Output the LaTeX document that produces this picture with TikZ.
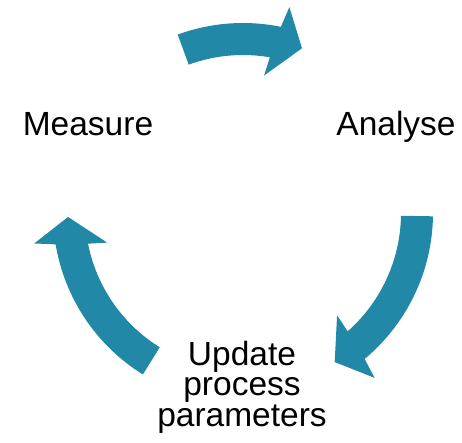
\documentclass[tikz,border=0pt]{standalone}
\usepackage{fontspec}
\setmainfont{Liberation Sans}
\definecolor{cycleteal}{RGB}{33,137,167}
\tikzset{
  arrowfill/.style={fill=cycleteal},
  steplabel/.style={inner sep=0pt, font=\fontsize{33.5}{30.5}\selectfont, text=black}
}
% curved clockwise arrow on the cycle circle: #1 tail angle, #2 tip angle
\newcommand{\cycArrow}[2]{%
  \fill[arrowfill] (#1:190) arc[start angle=#1, end angle={#2+8.2}, radius=190]
    -- ({#2+7}:211) -- (#2:175) -- ({#2+11}:139) -- ({#2+9.9}:158)
    arc[start angle={#2+9.9}, end angle=#1, radius=158] -- cycle;}
\begin{document}
\begin{tikzpicture}[x=1pt,y=1pt]
  \useasboundingbox (-243,-229) rectangle (219,213);
  \coordinate (centre) at (0,0);
  % the three steps
  \node[steplabel, anchor=base] (measure) at (-155,78) {Measure};
  \node[steplabel, anchor=base] (analyse) at (153,78) {Analyse};
  \node[steplabel, anchor=north, align=center] (update) at (-1,-128) {Update\\process\\parameters};
  % arrows between the steps
  \cycArrow{110.1}{70.3}
  \cycArrow{-1}{-58.4}
  \cycArrow{238.2}{181.3}
\end{tikzpicture}
\end{document}
